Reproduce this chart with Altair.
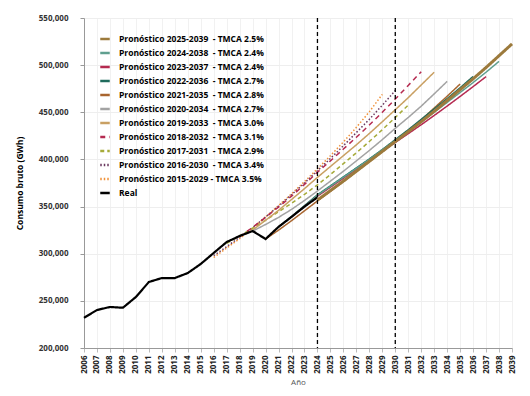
import altair as alt
import pandas as pd

# ---------------- data ----------------
real_years = list(range(2006, 2025))
real_values = [232000, 240300, 243500, 242700, 254100, 270000, 274200, 274200,
               279500, 289100, 300800, 312400, 318800, 324100, 315600, 328500,
               339000, 350000, 359800]

NB = "\u00a0"
labels = [
    f"Pronóstico 2025-2039{NB} - TMCA 2.5%",
    f"Pronóstico 2024-2038{NB} - TMCA 2.4%",
    f"Pronóstico 2023-2037{NB} - TMCA 2.4%",
    f"Pronóstico 2022-2036{NB} - TMCA 2.7%",
    f"Pronóstico 2021-2035{NB} - TMCA 2.8%",
    f"Pronóstico 2020-2034{NB} - TMCA 2.7%",
    f"Pronóstico 2019-2033{NB} - TMCA 3.0%",
    f"Pronóstico 2018-2032{NB} - TMCA 3.1%",
    f"Pronóstico 2017-2031{NB} - TMCA 2.9%",
    f"Pronóstico 2016-2030{NB} - TMCA 3.4%",
    "Pronóstico 2015-2029 - TMCA 3.5%",
    "Real",
]

# first year of each plotted forecast line
f_start = [2024, 2023, 2022, 2021, 2020, 2019, 2019, 2018, 2017, 2016, 2016]

f2025 = [357000, 367000, 377000, 387500, 398000, 408500, 419000, 429500, 440000,
         451000, 462500, 474000, 485500, 497500, 510000, 522500]
f2024 = [349500, 362000, 371500, 381000, 390500, 400000, 410000, 420000, 429500,
         439500, 450000, 460500, 471000, 481500, 492500, 504000]
f2023 = [339000, 350000, 361000, 370500, 380000, 389500, 399000, 408500, 418000,
         427300, 436800, 446600, 456600, 466800, 477200, 487800]
f2022 = [328300, 339500, 351000, 362500, 372000, 381500, 391000, 400500, 410500,
         421000, 431500, 442500, 453500, 464500, 476000, 488000]
f2021 = [315600, 325000, 335000, 345500, 356000, 366000, 376500, 387000, 397500,
         408000, 419000, 430500, 442000, 454500, 467000, 480000]
f2020 = [324000, 331000, 338500, 347000, 356500, 366500, 377000, 387500, 398500,
         409500, 421000, 433000, 444500, 456500, 469500, 482800]
f2019 = [325000, 335500, 346000, 357500, 369000, 381000, 392500, 404000, 415500,
         427500, 440000, 452700, 465500, 479000, 492500]
f2018 = [318000, 328000, 338500, 349500, 361000, 373500, 386500, 398500, 411000,
         423500, 436500, 450000, 464000, 478500, 493000]
f2017 = [311000, 319000, 327000, 335500, 344500, 353500, 363000, 373000, 384000,
         395500, 407000, 419000, 431500, 444500, 457500]
f2016 = [298000, 307500, 317500, 327500, 339000, 350500, 362500, 375000, 388000,
         401000, 414500, 428500, 442500, 457500, 473000]
f2015 = [296000, 306000, 316000, 327000, 339000, 351000, 363500, 376500, 390000,
         404000, 418500, 434000, 450500, 469000]

forecasts = [f2025, f2024, f2023, f2022, f2021, f2020, f2019, f2018, f2017, f2016, f2015]

rule_years = [2024, 2030]
x_ticks = list(range(2006, 2040))
y_ticks = [200000, 250000, 300000, 350000, 400000, 450000, 500000, 550000]

# ---------------- styles ----------------
colors = ["#9c7a3c", "#5f9f8f", "#b52a50", "#1f6b5c", "#a8652f", "#a3a3a3",
          "#c9a063", "#b52a50", "#a6ab3a", "#6b3a60", "#f0923a", "#000000"]
dashes = [[1, 0], [1, 0], [1, 0], [1, 0], [1, 0], [1, 0], [1, 0],
          [5, 4], [4, 3], [1.5, 2], [1.5, 2], [1, 0]]

rows = []
for idx in reversed(range(len(forecasts))):
    vals = forecasts[idx]
    for k, v in enumerate(vals):
        rows.append({"anio": f_start[idx] + k, "valor": v, "serie": labels[idx]})
for y, v in zip(real_years, real_values):
    rows.append({"anio": y, "valor": v, "serie": "Real"})
df = pd.DataFrame(rows)
df_rules = pd.DataFrame({"anio": rule_years})

FONT = "Open Sans"

x_axis = alt.Axis(values=x_ticks, format="d", labelAngle=-90, labelOverlap=False,
                  labelFont=FONT, labelFontSize=8, labelFontWeight="bold",
                  labelColor="#222222", labelPadding=3,
                  tickSize=4, tickColor="#bbbbbb",
                  domainColor="#999999",
                  gridColor="#f1f1f1",
                  titleFont=FONT, titleFontSize=8, titleFontWeight="normal",
                  titleColor="#555555", titlePadding=5)
x_scale = alt.Scale(domain=[2006, 2039], nice=False, zero=False)
x_enc = alt.X("anio:Q", title="Año", scale=x_scale, axis=x_axis)
y_enc = alt.Y("valor:Q", title="Consumo bruto (GWh)",
              scale=alt.Scale(domain=[200000, 550000], nice=False, zero=False),
              axis=alt.Axis(values=y_ticks, format=",.0f", labelOverlap=False,
                            labelFont=FONT, labelFontSize=8, labelFontWeight="bold",
                            labelColor="#333333", labelPadding=12,
                            tickSize=4, tickColor="#999999",
                            domainColor="#999999",
                            gridColor="#eeeeee",
                            titleFont=FONT, titleFontSize=8.5, titleFontWeight="bold",
                            titleColor="#000000", titlePadding=14))

color_enc = alt.Color("serie:N", sort=labels,
                      scale=alt.Scale(domain=labels, range=colors), title=None)
dash_enc = alt.StrokeDash("serie:N", sort=labels,
                          scale=alt.Scale(domain=labels, range=dashes), title=None)

base = alt.Chart(df).encode(x=x_enc, y=y_enc, color=color_enc, strokeDash=dash_enc,
                            detail="serie:N")

thin = base.transform_filter(
    alt.FieldOneOfPredicate(field="serie", oneOf=labels[1:11])
).mark_line(strokeWidth=1.5, strokeCap="butt")
thick = base.transform_filter(
    alt.FieldEqualPredicate(field="serie", equal=labels[0])
).mark_line(strokeWidth=3, strokeCap="butt")
real_line = base.transform_filter(
    alt.FieldEqualPredicate(field="serie", equal="Real")
).mark_line(strokeWidth=2.2, strokeCap="butt")

rules = alt.Chart(df_rules).mark_rule(color="#000000", strokeDash=[4, 3],
                                      strokeWidth=1.3).encode(
    x=alt.X("anio:Q", scale=x_scale, axis=x_axis, title="Año"))

chart = alt.layer(thin, real_line, thick, rules).properties(
    width=428, height=330,
    autosize=alt.AutoSizeParams(type="none"),
    padding={"left": 76, "top": 10, "right": 10, "bottom": 40},
).configure_view(stroke=None).configure_legend(
    orient="none", legendX=15, legendY=15,
    labelFont=FONT, labelFontSize=8.5, labelFontWeight="bold", labelColor="#000000",
    symbolType="stroke", symbolSize=90, symbolStrokeWidth=2.5,
    rowPadding=3, labelOffset=8, labelLimit=400, padding=0,
)

chart.save("out.html", embed_options={"renderer": "svg", "actions": False})
